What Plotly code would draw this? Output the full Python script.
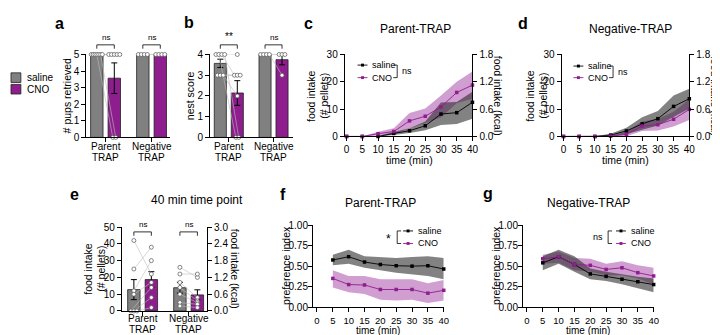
import numpy as np
import plotly.graph_objects as go

# ---------------- data ----------------
GROUPS = [("Parent", "TRAP"), ("Negative", "TRAP")]
TREATMENTS = ["saline", "CNO"]

pups_saline = [[5, 5, 5, 5, 5, 5, 5], [5, 5, 5, 5]]
pups_cno = [[5, 5, 5, 0, 5, 0, 5], [5, 5, 5, 5]]

nest_saline = [[4, 4, 4, 4, 3, 3, 3], [4, 4, 4, 4]]
nest_cno = [[4, 0, 3, 0, 3, 3, 2], [4, 4, 4, 3]]

food40_saline = [[42, 25, 12, 10, 0, 0, 0], [26, 22, 17, 14, 10, 5, 3]]
food40_cno = [[22, 38, 30, 17, 14, 8, 2], [20, 22, 8, 6, 5, 4, 2]]

KCAL_PER_PELLET = 0.06

time_intake = [0, 5, 10, 15, 20, 25, 30, 35, 40]
c_saline_mean = [0, 0, 0, 1.1, 2.1, 3.9, 8.2, 8.7, 12.5]
c_saline_hi = [0, 0, 0.2, 1.6, 3.0, 5.5, 12.4, 12.6, 16.4]
c_saline_lo = [0, 0, 0, 0.5, 1.3, 2.3, 4.2, 4.6, 6.5]
c_cno_mean = [0, 0, 1.0, 1.8, 5.7, 7.4, 10.8, 16.1, 18.8]
c_cno_hi = [0, 0, 1.7, 3.0, 8.6, 10.2, 15.0, 20.0, 23.8]
c_cno_lo = [0, 0, 0.3, 0.8, 3.0, 4.8, 7.0, 12.2, 13.8]

d_saline_mean = [0, 0, 0, 0.5, 2.0, 4.6, 6.5, 11.0, 13.8]
d_saline_hi = [0, 0, 0.1, 1.0, 3.2, 7.0, 9.3, 15.0, 17.5]
d_saline_lo = [0, 0, 0, 0, 0.9, 2.5, 4.0, 7.2, 10.2]
d_cno_mean = [0, 0, 0, 0.1, 0.8, 3.8, 4.3, 6.3, 9.9]
d_cno_hi = [0, 0, 0, 0.3, 1.6, 5.5, 6.4, 9.0, 13.6]
d_cno_lo = [0, 0, 0, 0, 0.1, 2.0, 2.2, 3.6, 6.0]

time_pref = [5, 10, 15, 20, 25, 30, 35, 40]
f_saline_mean = [0.575, 0.615, 0.55, 0.52, 0.505, 0.50, 0.505, 0.465]
f_saline_hi = [0.64, 0.70, 0.62, 0.61, 0.60, 0.61, 0.62, 0.60]
f_saline_lo = [0.51, 0.53, 0.48, 0.45, 0.42, 0.40, 0.38, 0.34]
f_cno_mean = [0.35, 0.275, 0.27, 0.215, 0.215, 0.215, 0.17, 0.205]
f_cno_hi = [0.45, 0.38, 0.38, 0.34, 0.34, 0.34, 0.29, 0.33]
f_cno_lo = [0.24, 0.18, 0.16, 0.09, 0.08, 0.09, 0.05, 0.08]

g_saline_mean = [0.54, 0.615, 0.52, 0.405, 0.375, 0.34, 0.31, 0.275]
g_saline_hi = [0.62, 0.70, 0.62, 0.47, 0.43, 0.40, 0.37, 0.35]
g_saline_lo = [0.45, 0.53, 0.43, 0.34, 0.32, 0.28, 0.23, 0.18]
g_cno_mean = [0.59, 0.615, 0.52, 0.51, 0.46, 0.48, 0.42, 0.38]
g_cno_hi = [0.64, 0.68, 0.60, 0.59, 0.53, 0.56, 0.51, 0.48]
g_cno_lo = [0.53, 0.54, 0.45, 0.43, 0.39, 0.39, 0.35, 0.28]

# ---------------- style ----------------
W, H = 720, 335
FONT = "Liberation Sans, Arial, Helvetica, sans-serif"
GRAY = "#808080"
PURPLE = "#8E1E8E"
SAL_BAND = "rgba(40,40,40,0.58)"
CNO_BAND = "rgba(150,40,150,0.45)"
OFF = 0.19
BW = 0.27
TICK_SIZE = 10
TITLE_SIZE = 10.5


def px(xp):
    return xp / W


def py(yp):
    return 1 - yp / H


def axis_common(**kw):
    d = dict(showline=True, linecolor="black", linewidth=1, ticks="outside",
             ticklen=4, tickwidth=1, tickcolor="black", showgrid=False,
             zeroline=False, tickfont=dict(size=TICK_SIZE, color="black", family=FONT),
             fixedrange=True)
    d.update(kw)
    return d


fig = go.Figure()
annotations = []
shapes = []


def text(x, y, s, size=11, xanchor="center", yanchor="middle", angle=0, bold=False):
    annotations.append(dict(x=px(x), y=py(y), xref="paper", yref="paper", text=(f"<b>{s}</b>" if bold else s),
                            showarrow=False, xanchor=xanchor, yanchor=yanchor, textangle=angle,
                            font=dict(size=size, color="black", family=FONT)))


def spread(vals, step=0.065, maxhalf=0.12):
    vals = np.asarray(vals, dtype=float)
    offs = np.zeros(len(vals))
    for v in np.unique(vals):
        idx = np.where(vals == v)[0]
        n = len(idx)
        if n > 1:
            s = min(step, 2 * maxhalf / (n - 1))
            offs[idx] = (np.arange(n) - (n - 1) / 2) * s
    return offs


def bar_panel(xr, yr, sal, cno, bracket_labels, bracket_top_px, label_top_px):
    lx, ly = [], []
    for gi in range(len(GROUPS)):
        js = spread(sal[gi])
        jc = spread(cno[gi])
        for i in range(len(sal[gi])):
            lx += [gi - OFF + js[i], gi + OFF + jc[i], None]
            ly += [sal[gi][i], cno[gi][i], None]
    for t, data, col in ((0, sal, GRAY), (1, cno, PURPLE)):
        sign = -1 if t == 0 else 1
        means = [np.mean(v) for v in data]
        sems = [np.std(v, ddof=1) / np.sqrt(len(v)) for v in data]
        fig.add_trace(go.Bar(x=[gi + sign * OFF for gi in range(len(GROUPS))], y=means, width=BW,
                             name=TREATMENTS[t],
                             marker=dict(color=col, line=dict(color="#222222", width=0.8)),
                             error_y=dict(type="data", array=sems, color="black", thickness=1, width=3),
                             xaxis=xr, yaxis=yr, showlegend=False, hoverinfo="skip"))
    fig.add_trace(go.Scatter(x=lx, y=ly, mode="lines", line=dict(color="#bdbdbd", width=0.6),
                             xaxis=xr, yaxis=yr, showlegend=False, hoverinfo="skip", cliponaxis=False))
    for t, data in ((0, sal), (1, cno)):
        sign = -1 if t == 0 else 1
        xs, ys = [], []
        for gi in range(len(GROUPS)):
            j = spread(data[gi])
            xs += list(gi + sign * OFF + j)
            ys += list(data[gi])
        fig.add_trace(go.Scatter(x=xs, y=ys, mode="markers",
                                 marker=dict(symbol="circle", size=4, color="white",
                                             line=dict(color="#555555", width=0.7)),
                                 xaxis=xr, yaxis=yr, showlegend=False, hoverinfo="skip", cliponaxis=False))
    for gi, lab in enumerate(bracket_labels):
        x0, x1 = gi - OFF, gi + OFF
        yt, yb = py(bracket_top_px), py(bracket_top_px + 4)
        shapes.append(dict(type="path", xref=xr, yref="paper",
                           path=f"M {x0},{yb} L {x0},{yt} L {x1},{yt} L {x1},{yb}",
                           line=dict(color="black", width=0.8)))
        annotations.append(dict(x=gi, y=py(bracket_top_px - 1), xref=xr, yref="paper", text=lab,
                                showarrow=False, yanchor="bottom",
                                font=dict(size=8 if lab == "ns" else 10, color="black", family=FONT)))
    # category labels (two lines, tight spacing)
    for gi, (l1, l2) in enumerate(GROUPS):
        for k, s in enumerate((l1, l2)):
            annotations.append(dict(x=gi, y=py(label_top_px + 11.5 * k), xref=xr, yref="paper", text=s,
                                    showarrow=False, yanchor="middle",
                                    font=dict(size=10, color="black", family=FONT)))


def line_panel(xr, yr, t, sal_m, sal_hi, sal_lo, cno_m, cno_hi, cno_lo):
    for hi, lo, col, nm in ((cno_hi, cno_lo, CNO_BAND, "CNO"), (sal_hi, sal_lo, SAL_BAND, "saline")):
        fig.add_trace(go.Scatter(x=list(t) + list(t)[::-1], y=list(hi) + list(lo)[::-1], fill="toself",
                                 fillcolor=col, line=dict(width=0), mode="lines", xaxis=xr, yaxis=yr,
                                 name=nm, showlegend=False, hoverinfo="skip"))
    for m, col, nm in ((sal_m, "black", "saline"), (cno_m, PURPLE, "CNO")):
        fig.add_trace(go.Scatter(x=t, y=m, mode="lines+markers", line=dict(color=col, width=0.9),
                                 marker=dict(symbol="square", size=3.5, color=col), name=nm,
                                 xaxis=xr, yaxis=yr, showlegend=False, hoverinfo="skip", cliponaxis=False))


def line_legend(x0, y_s, y_c, sig, bracket_x, bracket_side, sig_x):
    for yy, col, lab in ((y_s, "black", "saline"), (y_c, PURPLE, "CNO")):
        shapes.append(dict(type="line", xref="paper", yref="paper", x0=px(x0), x1=px(x0 + 10),
                           y0=py(yy), y1=py(yy), line=dict(color=col, width=0.9)))
        shapes.append(dict(type="rect", xref="paper", yref="paper", x0=px(x0 + 3.5), x1=px(x0 + 6.5),
                           y0=py(yy - 1.5), y1=py(yy + 1.5), fillcolor=col, line=dict(width=0)))
        text(x0 + 13, yy, lab, size=9, xanchor="left")
    stub = -4 if bracket_side == "right" else 4
    shapes.append(dict(type="path", xref="paper", yref="paper",
                       path=f"M {px(bracket_x + stub)},{py(y_s)} L {px(bracket_x)},{py(y_s)} "
                            f"L {px(bracket_x)},{py(y_c)} L {px(bracket_x + stub)},{py(y_c)}",
                       line=dict(color="black", width=0.8)))
    if bracket_side == "right":
        text(sig_x, (y_s + y_c) / 2, sig, size=9 if sig == "ns" else 12, xanchor="left")
    else:
        text(sig_x, (y_s + y_c) / 2 + (2 if sig == "*" else 0), sig, size=9 if sig == "ns" else 12,
             xanchor="right")


# ---------------- panels ----------------
bar_panel("x", "y", pups_saline, pups_cno, ["ns", "ns"], 32, 137)
bar_panel("x2", "y2", nest_saline, nest_cno, ["**", "ns"], 32, 137)
bar_panel("x3", "y3", food40_saline, food40_cno, ["ns", "ns"], 226, 316)
fig.add_trace(go.Scatter(x=[0, 1], y=[np.mean(v) * KCAL_PER_PELLET for v in food40_saline], mode="markers",
                         marker=dict(opacity=0), xaxis="x3", yaxis="y4", showlegend=False, hoverinfo="skip"))

line_panel("x4", "y5", time_intake, c_saline_mean, c_saline_hi, c_saline_lo, c_cno_mean, c_cno_hi, c_cno_lo)
fig.add_trace(go.Scatter(x=time_intake, y=np.array(c_cno_mean) * KCAL_PER_PELLET, mode="markers",
                         marker=dict(opacity=0), xaxis="x4", yaxis="y6", showlegend=False, hoverinfo="skip"))
line_panel("x5", "y7", time_intake, d_saline_mean, d_saline_hi, d_saline_lo, d_cno_mean, d_cno_hi, d_cno_lo)
fig.add_trace(go.Scatter(x=time_intake, y=np.array(d_cno_mean) * KCAL_PER_PELLET, mode="markers",
                         marker=dict(opacity=0), xaxis="x5", yaxis="y8", showlegend=False, hoverinfo="skip"))
line_panel("x6", "y9", time_pref, f_saline_mean, f_saline_hi, f_saline_lo, f_cno_mean, f_cno_hi, f_cno_lo)
line_panel("x7", "y10", time_pref, g_saline_mean, g_saline_hi, g_saline_lo, g_cno_mean, g_cno_hi, g_cno_lo)

# ---------------- axes ----------------
cat_ticks = dict(tickmode="array", tickvals=list(range(len(GROUPS))), ticktext=["" for _ in GROUPS])
time_ticks = dict(tickmode="array", tickvals=time_intake)
small_ticks = dict(size=9.5, color="black", family=FONT)
layout_axes = dict(
    xaxis=axis_common(domain=[px(78), px(163)], range=[-0.42, 1.41], anchor="y", **cat_ticks),
    yaxis=axis_common(domain=[py(128), py(42)], range=[0, 5], dtick=1, anchor="x"),
    xaxis2=axis_common(domain=[px(203), px(287)], range=[-0.42, 1.44], anchor="y2", **cat_ticks),
    yaxis2=axis_common(domain=[py(128), py(42)], range=[0, 4], dtick=1, anchor="x2"),
    xaxis3=axis_common(domain=[px(114), px(200)], range=[-0.45, 1.4], anchor="y3", **cat_ticks),
    yaxis3=axis_common(domain=[py(308), py(221)], range=[0, 50], dtick=10, anchor="x3"),
    yaxis4=axis_common(domain=[py(308), py(221)], range=[0, 50 * KCAL_PER_PELLET], dtick=0.6,
                       tickformat=".1f", anchor="x3", overlaying="y3", side="right"),
    xaxis4=axis_common(domain=[px(339), px(468)], range=[-0.6, 40], anchor="y5", **time_ticks),
    yaxis5=axis_common(domain=[py(127), py(42)], range=[0, 30], dtick=10, anchor="x4"),
    yaxis6=axis_common(domain=[py(127), py(42)], range=[0, 30 * KCAL_PER_PELLET], dtick=0.6,
                       tickformat=".1f", anchor="x4", overlaying="y5", side="right"),
    xaxis5=axis_common(domain=[px(558), px(687)], range=[-0.6, 40], anchor="y7", **time_ticks),
    yaxis7=axis_common(domain=[py(127), py(42)], range=[0, 30], dtick=10, anchor="x5"),
    yaxis8=axis_common(domain=[py(127), py(42)], range=[0, 30 * KCAL_PER_PELLET], dtick=0.6,
                       tickformat=".1f", anchor="x5", overlaying="y7", side="right"),
    xaxis6=axis_common(domain=[px(307), px(439)], range=[-1.25, 40], anchor="y9", tickfont=small_ticks,
                       **time_ticks),
    yaxis9=axis_common(domain=[py(304), py(219)], range=[0, 1], dtick=0.25, tickformat=".2f", anchor="x6",
                       ticklabelstandoff=-2),
    xaxis7=axis_common(domain=[px(519), px(651)], range=[-1.25, 40], anchor="y10", tickfont=small_ticks,
                       **time_ticks),
    yaxis10=axis_common(domain=[py(304), py(219)], range=[0, 1], dtick=0.25, tickformat=".2f", anchor="x7",
                        ticklabelstandoff=-2),
)

# ---------------- text ----------------
for letter, x, y in (("a", 51, 10), ("b", 182, 9), ("c", 302, 10), ("d", 519, 10),
                     ("e", 66, 187), ("f", 277, 187), ("g", 484, 186)):
    text(x, y, letter, size=16, bold=True)

text(410, 16, "Parent-TRAP", size=12)
text(628, 16, "Negative-TRAP", size=12)
text(190, 193, "40 min time point", size=12)
text(375, 196, "Parent-TRAP", size=12)
text(585, 196, "Negative-TRAP", size=12)

text(59, 85, "# pups retrieved", size=TITLE_SIZE, angle=-90)
text(183, 85, "nest score", size=TITLE_SIZE, angle=-90)
text(305, 85, "food intake", size=TITLE_SIZE, angle=-90)
text(318, 85, "(# pellets)", size=TITLE_SIZE, angle=-90)
text(494, 85, "food intake (kcal)", size=TITLE_SIZE, angle=90)
text(526, 85, "food intake", size=TITLE_SIZE, angle=-90)
text(539, 85, "(# pellets)", size=TITLE_SIZE, angle=-90)
text(713, 85, "food intake (kcal)", size=TITLE_SIZE, angle=90)
text(79, 264, "food intake", size=TITLE_SIZE, angle=-90)
text(92, 264, "(# pellets)", size=TITLE_SIZE, angle=-90)
text(229, 264, "food intake (kcal)", size=TITLE_SIZE, angle=90)
text(279, 261, "preference index", size=TITLE_SIZE, angle=-90)
text(491, 261, "preference index", size=TITLE_SIZE, angle=-90)

text(404, 151, "time (min)", size=TITLE_SIZE)
text(623, 151, "time (min)", size=TITLE_SIZE)
text(373, 328, "time (min)", size=10)
text(585, 328, "time (min)", size=10)

# legend of bar panels
for yy, col, lab in ((66, GRAY, "saline"), (78, PURPLE, "CNO")):
    shapes.append(dict(type="rect", xref="paper", yref="paper", x0=px(2), x1=px(12), y0=py(yy - 5), y1=py(yy + 5),
                       fillcolor=col, line=dict(color="#222222", width=0.8)))
    text(16, yy, lab, size=10, xanchor="left")

# legends of line panels
line_legend(352, 53, 66, "ns", 392, "right", 395)
line_legend(570, 54, 66, "ns", 610, "right", 613)
line_legend(398, 225, 238, "*", 392, "left", 388)
line_legend(613, 225, 238, "ns", 605, "left", 602)

fig.update_layout(width=W, height=H, margin=dict(l=0, r=0, t=0, b=0), paper_bgcolor="white",
                  plot_bgcolor="rgba(0,0,0,0)", barmode="overlay", showlegend=False,
                  font=dict(family=FONT, color="black"), annotations=annotations, shapes=shapes,
                  **layout_axes)

fig.write_html("out.html")
